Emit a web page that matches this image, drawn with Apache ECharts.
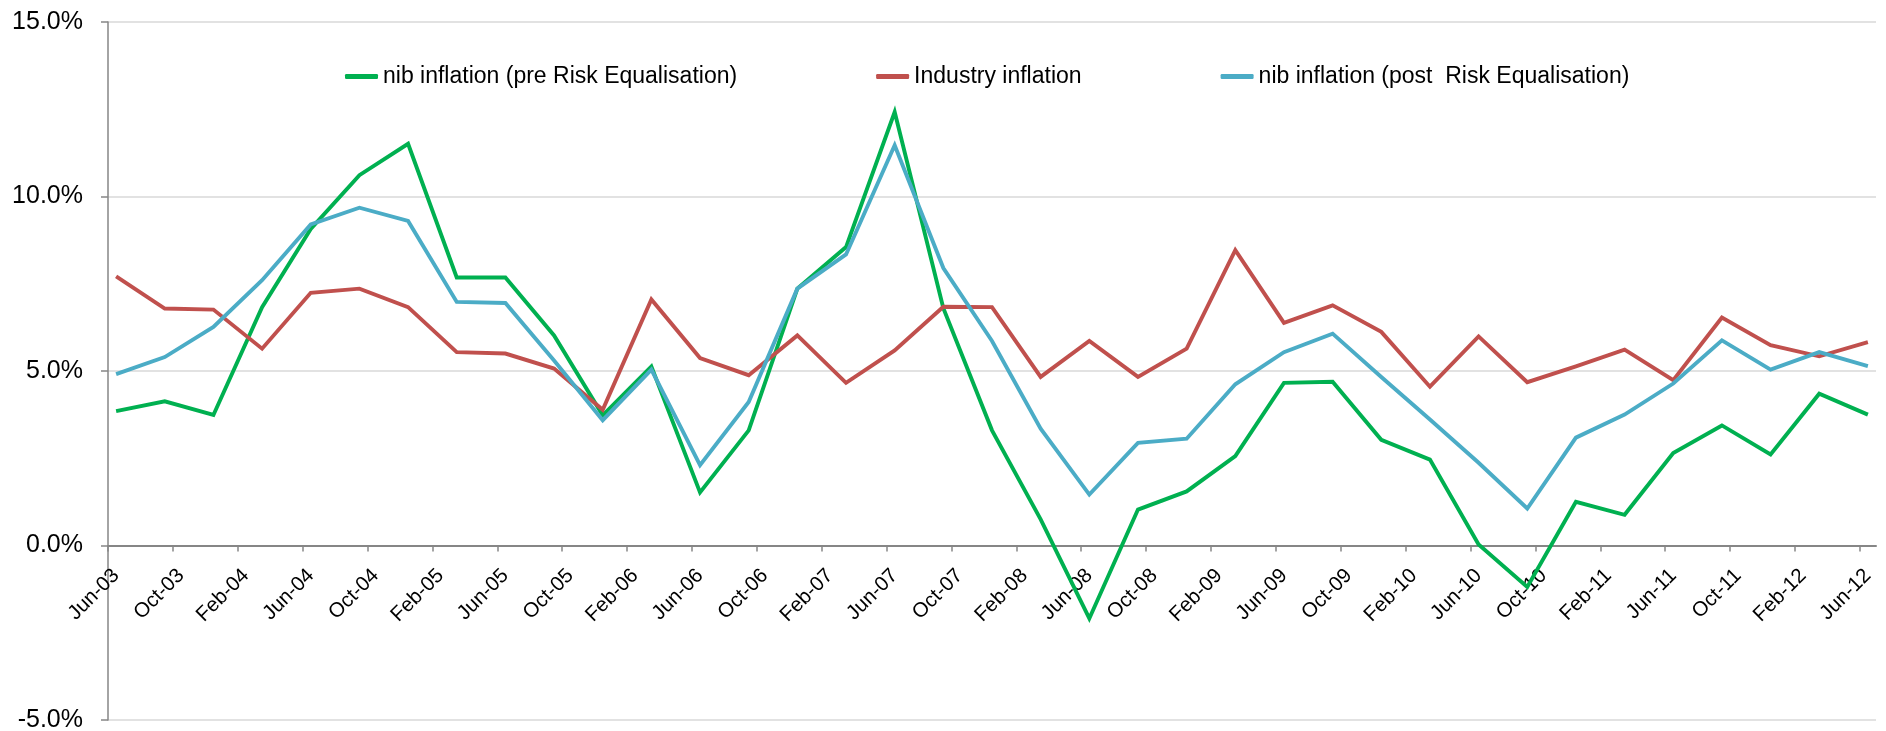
<!DOCTYPE html>
<html>
<head>
<meta charset="utf-8">
<script src="https://cdn.jsdelivr.net/npm/echarts@6/dist/echarts.min.js"></script>
<style>
html,body{margin:0;padding:0;background:#fff;}
#chart{width:1886px;height:731px;}
</style>
</head>
<body>
<div id="chart"></div>
<script>
// Quarterly observations, Jun-03 .. Jun-12 (one value per quarter)
const quarters = ['Jun-03','Sep-03','Dec-03','Mar-04','Jun-04','Sep-04','Dec-04','Mar-05','Jun-05','Sep-05','Dec-05','Mar-06','Jun-06','Sep-06','Dec-06','Mar-07','Jun-07','Sep-07','Dec-07','Mar-08','Jun-08','Sep-08','Dec-08','Mar-09','Jun-09','Sep-09','Dec-09','Mar-10','Jun-10','Sep-10','Dec-10','Mar-11','Jun-11','Sep-11','Dec-11','Mar-12','Jun-12'];
const nibPre = [3.85, 4.13, 3.74, 6.83, 9.07, 10.61, 11.51, 7.68, 7.68, 6.02, 3.73, 5.13, 1.52, 3.30, 7.36, 8.55, 12.42, 6.80, 3.30, 0.75, -2.09, 1.03, 1.55, 2.56, 4.66, 4.69, 3.03, 2.46, 0.03, -1.19, 1.25, 0.88, 2.65, 3.44, 2.61, 4.35, 3.75];
const industry = [7.71, 6.79, 6.76, 5.64, 7.24, 7.36, 6.83, 5.54, 5.50, 5.07, 3.89, 7.05, 5.37, 4.88, 6.02, 4.66, 5.59, 6.84, 6.83, 4.83, 5.86, 4.83, 5.64, 8.46, 6.38, 6.88, 6.12, 4.55, 5.99, 4.68, 5.13, 5.61, 4.74, 6.53, 5.74, 5.42, 5.83];
const nibPost = [4.91, 5.40, 6.26, 7.60, 9.20, 9.68, 9.30, 6.98, 6.95, 5.30, 3.59, 5.04, 2.30, 4.11, 7.36, 8.34, 11.47, 7.95, 5.86, 3.35, 1.46, 2.94, 3.06, 4.62, 5.54, 6.07, 4.83, 3.61, 2.37, 1.06, 3.09, 3.75, 4.64, 5.88, 5.04, 5.54, 5.14];
// X tick labels every 4 months
const tickLabels = ['Jun-03','Oct-03','Feb-04','Jun-04','Oct-04','Feb-05','Jun-05','Oct-05','Feb-06','Jun-06','Oct-06','Feb-07','Jun-07','Oct-07','Feb-08','Jun-08','Oct-08','Feb-09','Jun-09','Oct-09','Feb-10','Jun-10','Oct-10','Feb-11','Jun-11','Oct-11','Feb-12','Jun-12'];
const seriesNames = ['nib inflation (pre Risk Equalisation)', 'Industry inflation', 'nib inflation (post  Risk Equalisation)'];
const colors = ['#00B050', '#C0504D', '#4BACC6'];

// month axis: each month is one unit; a quarterly point sits in the middle of its month
const MONTHS_PER_Q = 3, MONTHS_PER_TICK = 4;
const toPairs = arr => arr.map((v, i) => [i * MONTHS_PER_Q + 0.5, v]);
const tickVals = tickLabels.map((_, k) => k * MONTHS_PER_TICK);
const labelVals = tickVals.map(v => v + 0.5);
const totalMonths = (tickLabels.length - 1) * MONTHS_PER_TICK + 1;

const Y_MIN = -5, Y_MAX = 15;
const H = 731, GRID_TOP = 22, GRID_BOTTOM = 11;
// x labels sit under the zero line: shift them up from the grid bottom by the zero line's offset
const zeroOffset = (H - GRID_TOP - GRID_BOTTOM) * (0 - Y_MIN) / (Y_MAX - Y_MIN);

const font = "'Liberation Sans', Arial, sans-serif";
const chart = echarts.init(document.getElementById('chart'), null, {renderer: 'canvas'});
const lineSeries = [nibPre, industry, nibPost].map((arr, k) => ({
  name: seriesNames[k],
  type: 'line',
  data: toPairs(arr),
  showSymbol: false,
  symbol: 'none',
  lineStyle: {color: colors[k], width: 3.9, join: 'miter'},
  itemStyle: {color: colors[k]},
  z: 3 + k,
  animation: false
}));

chart.setOption({
  animation: false,
  backgroundColor: '#ffffff',
  grid: {left: 108, right: 10, top: GRID_TOP, bottom: GRID_BOTTOM, containLabel: false, outerBoundsMode: 'none'},
  legend: {
    left: 340, top: 60,
    itemWidth: 33, itemHeight: 5, itemGap: 139,
    icon: 'roundRect',
    textStyle: {fontFamily: font, fontSize: 23, color: '#000'},
    data: seriesNames
  },
  xAxis: {
    type: 'value',
    min: 0, max: totalMonths,
    axisLine: {show: true, onZero: true, lineStyle: {color: '#868686', width: 2}},
    axisTick: {show: true, length: 6, customValues: tickVals, lineStyle: {color: '#868686', width: 1.5}},
    axisLabel: {
      customValues: labelVals,
      rotate: 45, margin: 27 - zeroOffset,
      fontFamily: font, fontSize: 20.5, color: '#000',
      formatter: v => tickLabels[Math.round((v - 0.5) / MONTHS_PER_TICK)] || ''
    },
    splitLine: {show: false}
  },
  yAxis: {
    type: 'value',
    min: Y_MIN, max: Y_MAX, interval: 5,
    axisLine: {show: true, lineStyle: {color: '#868686', width: 1.5}},
    axisTick: {show: true, length: 7, lineStyle: {color: '#868686', width: 1.5}},
    axisLabel: {margin: 25, fontFamily: font, fontSize: 25, color: '#000', formatter: v => v.toFixed(1) + '%'},
    splitLine: {show: true, lineStyle: {color: '#D9D9D9', width: 1.5}}
  },
  series: lineSeries
});
</script>
</body>
</html>
